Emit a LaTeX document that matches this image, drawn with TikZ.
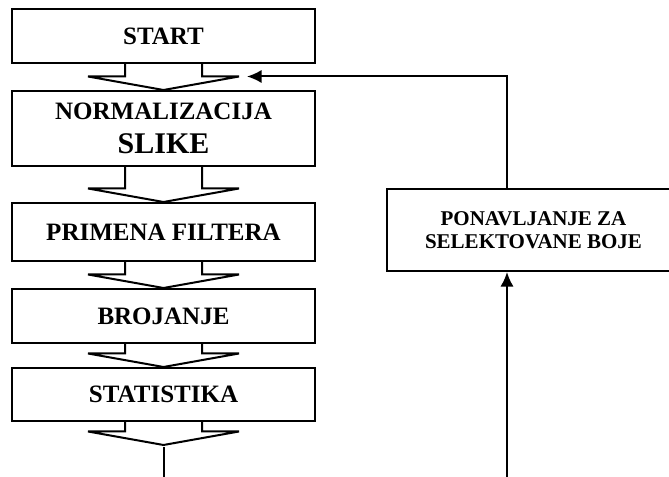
\documentclass[tikz,border=0pt]{standalone}
\usepackage{fontspec}
\setmainfont{Liberation Serif}
\usetikzlibrary{calc,arrows.meta}

\begin{document}
\begin{tikzpicture}[x=0.75pt,y=-0.75pt,line width=1.5pt,
	blok/.style={draw, rectangle, minimum width=227.25pt, align=center,
		font=\bfseries\fontsize{18.75}{25.5}\selectfont},
	veza/.style={-{Latex[length=11pt,width=10pt]}}]
	\clip (0,0) rectangle (669,477);
	% koraci obrade, jedan ispod drugog
	\node[blok, minimum height=40.5pt] (start) at (163.5,36) {START};
	\node[blok, minimum height=56.25pt] (norm) at (163.5,128.5)
		{NORMALIZACIJA\\{\fontsize{22.5}{25.5}\selectfont SLIKE}};
	\node[blok, minimum height=43.5pt] (filt) at (163.5,232) {PRIMENA FILTERA};
	\node[blok, minimum height=40.5pt] (broj) at (163.5,316) {BROJANJE};
	\node[blok, minimum height=39.75pt] (stat) at (163.5,394.5) {STATISTIKA};
	\node[inner sep=0pt, minimum size=0pt] (kraj) at (163.5,446) {};
	\coordinate (dno) at (163.5,477);
	% blok strelice izmedju koraka
	\foreach \a/\b in {start/norm, norm/filt, filt/broj, broj/stat, stat/kraj}
		\draw ($(\a.south)+(-38.5,0)$) -- ($(\b.north)+(-38.5,-13.5)$) -- ++(-37,0) --
			(\b.north) -- ($(\b.north)+(75.5,-13.5)$) -- ++(-37,0) -- ($(\a.south)+(38.5,0)$);
	\draw (kraj) -- (dno);
	% petlja za boje
	\node[blok, minimum width=219.75pt, minimum height=61.5pt,
		font=\bfseries\fontsize{15.75}{17.25}\selectfont] (ponov) at (533.5,230)
		{PONAVLJANJE ZA\\SELEKTOVANE BOJE};
	\coordinate (dno2) at (507,477);
	\coordinate (povratak) at (247,76.5);
	\draw[veza] (dno2) -- (dno2 |- ponov.south);
	\draw[veza] (ponov.north -| dno2) |- (povratak);
\end{tikzpicture}
\end{document}
